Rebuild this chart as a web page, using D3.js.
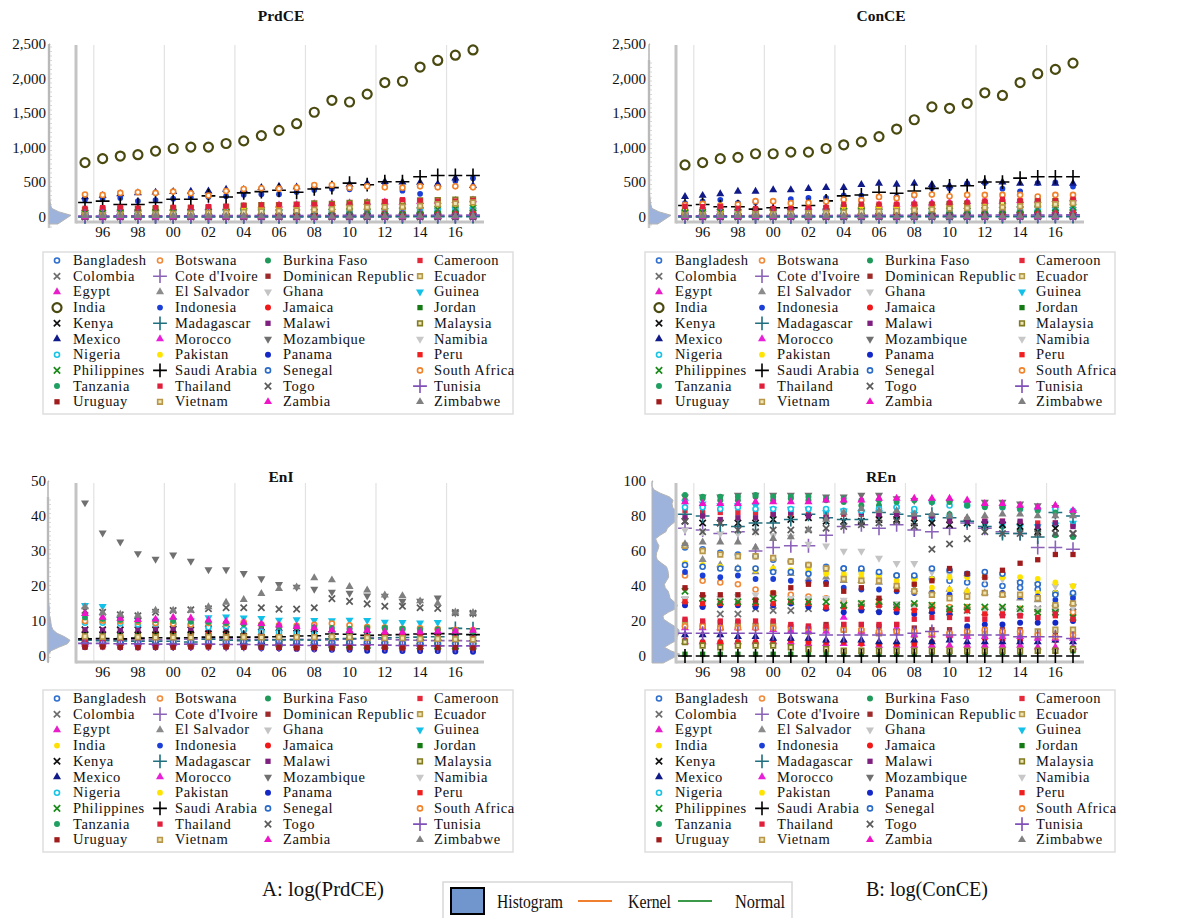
<!DOCTYPE html>
<html><head><meta charset="utf-8">
<script src="https://cdn.jsdelivr.net/npm/d3@7"></script>
<style>
body{margin:0;background:#fff}
svg{display:block}
text{font-family:'Liberation Serif','Times New Roman',serif;fill:#111}
</style>
</head><body>
<svg id="c" width="1179" height="918" font-family="Liberation Serif, Times New Roman, serif"></svg>
<script>
const years = d3.range(1995, 2018);
const yearTicks = [1996,1998,2000,2002,2004,2006,2008,2010,2012,2014,2016];
const gridYears = [1995.5,1999.5,2003.5,2007.5,2011.5,2015.5];
const countries = ["Bangladesh","Botswana","Burkina Faso","Cameroon","Colombia","Cote d'Ivoire","Dominican Republic","Ecuador","Egypt","El Salvador","Ghana","Guinea","India","Indonesia","Jamaica","Jordan","Kenya","Madagascar","Malawi","Malaysia","Mexico","Morocco","Mozambique","Namibia","Nigeria","Pakistan","Panama","Peru","Philippines","Saudi Arabia","Senegal","South Africa","Tanzania","Thailand","Togo","Tunisia","Uruguay","Vietnam","Zambia","Zimbabwe"];

// PrdCE (one row per country, 1995-2017)
const prdce = [
[16,18,19,20,21,23,26,28,30,32,35,38,40,44,48,52,56,60,63,68,75,80,85],
[3,3,4,4,4,4,4,4,4,4,4,4,5,5,4,5,5,6,6,7,7,7,7],
[1,1,1,1,1,1,1,1,1,1,1,2,2,2,2,2,3,3,3,3,3,4,4],
[3,3,3,3,3,3,4,4,4,4,4,5,5,5,5,6,6,6,6,7,7,7,7],
[60,62,64,64,60,58,59,57,57,57,58,61,62,65,70,72,73,78,84,88,90,97,94],
[5,5,6,6,6,6,6,6,6,6,6,7,7,7,7,7,7,8,9,10,10,11,11],
[13,14,15,16,18,19,19,20,19,18,19,20,21,21,21,21,21,22,21,22,24,25,25],
[20,21,23,22,20,21,23,25,25,27,29,31,31,31,32,35,36,37,40,41,40,37,36],
[95,100,105,110,115,125,132,137,140,150,160,170,178,190,197,203,210,215,212,220,225,236,245],
[5,5,5,6,6,6,6,6,6,6,6,7,7,6,6,6,6,7,6,6,7,7,7],
[4,4,5,6,6,6,7,7,7,7,7,8,9,9,10,11,12,13,14,15,16,15,15],
[1,1,1,1,1,1,1,1,2,2,2,2,2,2,2,2,2,2,2,2,2,3,3],
[786,843,881,900,952,990,1010,1010,1062,1100,1176,1252,1348,1514,1686,1662,1776,1943,1962,2167,2262,2338,2414],
[250,262,275,230,245,265,285,290,300,320,330,330,360,390,410,400,470,490,380,335,460,520,560],
[9,9,10,10,10,10,10,10,11,11,11,11,11,11,8,8,8,8,8,8,8,8,8],
[12,12,13,13,13,15,15,16,17,19,20,21,21,21,21,20,21,23,24,25,25,25,26],
[6,7,7,8,8,9,9,8,8,9,10,10,10,11,12,13,13,13,14,16,17,18,18],
[1,1,1,1,2,2,2,2,2,2,2,2,2,2,2,2,2,2,3,3,3,3,4],
[1,1,1,1,1,1,1,1,1,1,1,1,1,1,1,1,1,1,1,1,1,1,1],
[100,110,120,115,120,125,130,136,145,160,170,173,180,195,190,205,210,215,225,240,245,250,255],
[290,310,333,348,357,367,370,372,400,395,424,443,433,440,452,470,486,510,505,500,476,562,452],
[29,30,31,32,33,35,37,38,38,42,45,46,49,50,48,53,56,57,57,58,60,63,65],
[1,1,1,1,1,1,2,2,2,2,2,2,2,2,2,3,3,3,4,6,7,7,7],
[2,2,2,2,2,2,2,2,3,3,3,3,3,3,3,3,3,3,4,4,4,4,4],
[50,55,55,55,55,65,70,80,90,95,95,90,85,80,78,88,90,95,95,100,102,110,115],
[80,85,88,90,95,100,100,103,108,118,128,133,142,142,145,145,145,145,150,155,160,180,195],
[4,5,5,6,6,5,6,5,6,6,6,7,7,8,9,9,9,10,10,11,11,10,11],
[22,24,25,26,27,26,25,25,25,28,30,32,34,38,40,45,47,49,51,52,55,56,56],
[55,58,65,64,66,70,70,70,70,72,73,68,70,74,76,81,80,85,92,100,110,120,130],
[210,229,181,181,210,257,257,305,290,348,367,386,357,405,424,490,467,510,510,581,600,600,600],
[3,3,3,4,4,4,4,4,5,5,5,5,6,6,6,7,7,7,8,8,9,9,10],
[324,319,348,357,348,367,343,310,376,405,415,410,424,462,462,424,443,429,424,443,429,443,429],
[2,2,2,2,2,3,3,3,3,4,5,6,6,6,7,8,9,9,10,11,11,12,12],
[125,135,140,130,135,140,140,150,155,170,175,175,180,180,180,190,190,225,250,235,230,230,240],
[1,1,1,1,1,1,1,1,1,1,1,1,1,1,2,2,2,2,2,2,2,2,2],
[15,15,16,17,18,19,19,20,20,21,21,22,22,23,22,23,23,24,25,25,26,26,27],
[5,5,5,6,7,6,6,5,5,6,6,7,6,8,8,6,7,8,7,7,6,6,6],
[25,28,32,36,38,45,50,56,60,70,80,85,95,105,115,130,140,140,145,160,185,195,210],
[2,2,2,2,2,2,2,2,2,2,2,2,2,2,2,2,3,3,3,3,4,4,4],
[16,16,15,15,16,15,13,12,11,11,11,10,10,8,7,8,10,11,12,12,12,11,11]
];

// ConCE
const conce = [
[20,22,23,24,25,27,29,31,33,36,38,42,45,48,52,56,60,64,68,72,78,84,90],
[5,5,5,5,5,6,6,6,6,6,6,6,7,7,7,7,7,8,8,8,8,8,9],
[2,2,2,2,2,2,2,2,2,2,3,3,3,3,3,3,4,4,4,4,4,5,5],
[5,5,5,5,5,5,6,6,6,6,6,7,7,7,7,8,8,8,9,9,9,9,10],
[65,67,70,70,64,62,64,62,62,63,66,70,73,76,78,82,86,92,98,102,106,104,100],
[6,6,7,7,7,7,7,7,7,7,7,8,8,8,8,8,9,10,11,12,12,13,13],
[16,17,18,19,21,22,22,23,21,20,21,23,24,24,24,25,25,25,25,26,28,29,29],
[20,21,23,23,19,20,23,26,26,28,31,33,33,34,34,38,40,41,43,44,43,40,39],
[100,105,110,115,118,128,135,140,140,148,160,170,180,195,200,210,220,225,225,235,240,250,260],
[7,7,7,8,8,8,8,8,9,9,9,9,9,9,8,8,8,9,9,9,9,9,9],
[5,5,6,7,7,7,8,8,9,9,9,10,11,11,12,14,15,16,17,18,19,19,19],
[2,2,2,2,2,2,2,2,2,2,3,3,3,3,3,3,3,3,3,3,4,4,4],
[752,786,843,862,914,914,938,938,990,1043,1086,1162,1271,1405,1591,1571,1643,1795,1757,1943,2071,2133,2224],
[200,224,248,205,214,230,257,276,276,314,310,290,295,310,420,414,486,490,410,371,490,500,440],
[10,10,11,11,11,11,11,11,12,12,12,12,12,12,9,9,9,9,9,9,9,9,9],
[14,14,15,15,15,17,17,18,19,21,23,24,24,24,23,22,23,25,26,27,28,28,29],
[8,9,9,10,10,11,11,11,11,12,13,13,14,15,16,17,17,18,19,21,22,23,24],
[2,2,2,2,2,2,2,2,2,3,3,3,3,3,3,3,3,3,4,4,4,4,5],
[1,1,1,1,1,1,1,1,1,1,1,1,2,2,2,2,2,2,2,2,2,2,2],
[95,100,110,95,100,110,115,118,125,140,150,155,165,175,170,185,190,200,210,220,225,230,235],
[295,310,333,371,371,390,390,410,424,424,467,486,471,486,467,448,486,510,505,486,490,486,486],
[33,34,36,37,38,40,42,43,44,48,52,53,57,58,56,60,64,65,65,67,69,72,74],
[2,2,2,2,2,2,3,3,3,3,3,3,3,3,3,4,4,5,5,7,8,8,8],
[3,3,3,3,3,3,3,4,4,4,4,4,5,5,5,5,5,5,5,5,6,6,6],
[45,50,52,50,50,58,65,72,80,85,85,80,78,75,72,80,85,88,90,95,95,100,105],
[85,90,92,95,100,103,104,106,110,122,130,135,145,146,150,150,150,150,155,160,165,185,200],
[6,6,7,7,7,7,7,7,7,8,8,9,9,10,11,11,11,12,13,13,14,13,14],
[25,27,28,29,29,28,28,28,29,31,33,36,38,42,44,50,52,55,57,58,60,62,62],
[60,64,72,70,72,76,76,77,78,80,82,78,80,84,85,90,90,95,102,110,120,130,140],
[167,181,148,148,114,133,133,167,233,305,319,357,343,376,414,448,452,505,505,562,581,581,581],
[4,4,4,5,5,5,5,5,6,6,6,6,7,7,7,8,8,8,9,9,10,10,11],
[176,190,165,181,229,229,200,205,224,252,243,290,271,319,324,300,319,319,319,319,295,319,319],
[3,3,3,3,3,4,4,4,4,5,6,7,7,7,8,9,10,11,12,13,13,14,14],
[155,150,150,125,122,122,120,128,140,180,185,185,185,185,190,200,205,230,255,235,235,235,255],
[1,1,1,1,1,1,1,1,1,1,2,2,2,2,2,2,2,2,3,3,3,3,3],
[17,17,18,19,20,21,21,22,22,23,23,24,25,26,25,26,26,27,28,28,29,29,30],
[7,7,7,8,9,8,8,7,7,8,8,9,8,10,10,9,9,10,9,9,9,9,9],
[25,28,32,35,37,43,48,54,58,66,75,80,90,100,110,122,130,135,140,155,175,185,200],
[3,3,3,3,3,3,3,3,3,3,3,3,3,3,3,3,4,4,4,5,5,5,6],
[17,17,16,16,17,16,14,13,12,12,12,11,11,9,8,9,11,12,13,13,13,12,12]
];

// EnI
const eni = [
[3.6,3.6,3.5,3.5,3.4,3.4,3.4,3.3,3.3,3.3,3.2,3.2,3.1,3.1,3.1,3.0,3.0,2.9,2.9,2.9,2.8,2.8,2.7],
[5.2,5.0,4.9,4.8,4.6,4.5,4.4,4.4,4.3,4.2,4.2,4.1,4.0,4.1,4.5,4.4,4.3,4.4,4.5,4.3,4.2,4.1,4.0],
[5.5,5.4,5.4,5.3,5.3,5.2,5.3,5.2,5.1,5.0,5.0,4.9,4.8,4.9,4.8,4.6,4.5,4.5,4.4,4.4,4.3,4.3,4.2],
[6.2,6.0,5.9,5.8,5.7,5.7,5.6,5.5,5.4,5.3,5.2,5.1,5.0,4.9,4.9,4.8,4.7,4.7,4.6,4.5,4.5,4.4,4.4],
[4.0,4.0,3.9,3.9,4.0,3.9,3.8,3.7,3.6,3.4,3.4,3.3,3.2,3.1,3.1,3.0,2.9,2.9,2.8,2.8,2.7,2.7,2.7],
[4.8,4.7,4.6,4.6,4.6,4.8,4.8,4.9,4.9,4.8,4.8,4.7,4.8,4.7,4.6,4.8,5.2,4.8,4.6,4.5,4.4,4.4,4.3],
[3.8,3.7,3.6,3.6,3.5,3.4,3.3,3.2,3.3,3.1,2.9,2.7,2.6,2.5,2.4,2.4,2.3,2.3,2.2,2.1,2.1,2.0,2.0],
[4.1,4.2,4.3,4.5,4.6,4.5,4.4,4.4,4.3,4.3,4.3,4.2,4.2,4.1,4.2,4.1,4.0,3.9,3.9,3.9,3.9,3.8,3.8],
[4.0,3.9,3.9,3.8,3.8,3.8,3.9,3.9,3.9,4.0,4.0,3.9,3.8,3.7,3.7,3.7,3.8,3.8,3.7,3.6,3.5,3.5,3.4],
[5.0,5.0,4.9,4.9,4.9,4.8,4.7,4.6,4.6,4.5,4.4,4.3,4.2,4.1,4.0,4.0,3.9,3.9,3.8,3.7,3.7,3.6,3.6],
[6.5,6.4,6.3,6.2,6.0,5.9,5.8,5.6,5.5,5.3,5.1,4.8,4.5,4.3,4.1,3.9,3.6,3.6,3.5,3.6,3.5,3.4,3.3],
[14.5,14.2,10.5,10.2,10.0,10.2,10.1,11.0,11.2,10.9,10.8,10.3,10.4,10.2,10.1,10.3,10.2,9.7,9.6,9.5,9.6,7.6,7.3],
[7.0,6.9,6.8,6.6,6.5,6.4,6.2,6.1,5.9,5.8,5.6,5.4,5.3,5.3,5.3,5.1,5.0,4.9,4.8,4.7,4.6,4.5,4.4],
[5.0,4.9,4.9,5.4,5.5,5.4,5.3,5.2,5.0,4.9,4.7,4.5,4.4,4.2,4.2,4.1,3.9,3.8,3.6,3.5,3.4,3.3,3.3],
[6.5,6.6,6.7,6.5,6.6,6.8,6.9,6.5,6.3,6.0,5.9,5.8,5.8,5.5,4.6,4.6,4.5,4.4,4.3,4.3,4.2,4.2,4.2],
[6.2,6.0,6.0,5.9,5.9,5.8,5.6,5.6,5.8,5.7,5.5,5.1,5.0,4.7,4.6,4.5,4.4,4.6,4.6,4.7,4.6,4.4,4.3],
[7.5,7.5,7.5,7.5,7.5,7.6,7.5,7.8,7.6,7.0,6.8,6.6,6.5,6.3,6.2,6.0,5.9,5.7,5.5,5.5,5.4,5.2,5.1],
[4.5,4.4,4.3,4.2,4.2,4.2,4.0,4.8,4.5,4.4,4.5,4.6,4.6,4.5,4.9,5.0,5.0,5.2,5.3,5.4,5.5,7.9,7.8],
[7.5,7.4,7.3,7.5,7.6,7.8,7.9,8.0,8.0,7.5,7.6,7.4,7.2,7.0,6.9,7.3,7.8,8.0,7.8,7.6,7.2,6.9,6.7],
[5.1,5.2,5.2,5.3,5.3,5.5,5.7,5.6,5.6,5.6,5.5,5.3,5.2,5.1,5.0,5.1,5.1,5.1,5.0,5.0,4.8,4.7,4.6],
[4.3,4.2,4.0,4.0,3.9,3.8,3.8,3.8,3.9,4.0,4.0,3.9,3.8,3.8,3.8,3.8,3.8,3.7,3.6,3.5,3.4,3.3,3.3],
[3.4,3.4,3.5,3.4,3.5,3.6,3.4,3.5,3.4,3.5,3.6,3.5,3.6,3.6,3.4,3.5,3.5,3.5,3.4,3.3,3.2,3.2,3.1],
[43.8,35.2,32.6,29.3,27.7,28.9,27.1,24.7,24.7,23.6,22.1,20.5,19.7,19.1,18.3,18.0,17.2,17.1,15.7,15.7,16.6,12.3,12.1],
[3.6,3.6,3.7,3.8,3.9,3.8,3.8,3.9,3.8,3.8,3.9,3.8,3.7,3.7,3.9,3.7,3.8,3.7,3.6,3.6,3.5,3.5,3.4],
[9.5,9.5,9.3,9.0,9.2,9.2,9.0,8.2,8.5,7.5,7.0,6.8,6.5,6.2,6.3,6.0,5.8,5.6,5.5,5.3,5.3,5.4,5.4],
[5.0,5.0,5.1,5.1,5.1,5.0,5.0,4.9,4.9,4.8,4.7,4.7,4.6,4.6,4.6,4.5,4.4,4.4,4.3,4.2,4.2,4.2,4.2],
[2.6,2.7,2.5,2.6,2.6,2.8,2.6,2.7,2.6,2.5,2.3,2.2,2.0,1.9,1.8,1.8,1.5,1.5,1.4,1.4,1.4,1.3,1.2],
[3.0,3.0,3.0,2.9,2.9,3.0,2.9,2.8,2.8,2.8,2.8,2.6,2.6,2.5,2.6,2.6,2.6,2.6,2.5,2.6,2.6,2.5,2.5],
[4.5,4.5,4.6,4.7,4.6,4.4,4.3,4.1,4.0,4.0,3.8,3.5,3.3,3.2,3.3,3.2,3.1,3.1,3.0,2.9,2.9,2.9,2.8],
[4.9,5.0,4.9,5.1,5.2,5.1,5.2,5.4,5.4,5.4,5.4,5.5,5.7,5.8,6.3,6.2,5.9,6.0,6.1,6.3,6.4,6.3,6.1],
[4.2,4.1,4.0,3.9,4.2,4.1,4.1,4.0,4.0,4.1,4.2,4.2,4.0,3.9,3.9,3.9,3.9,3.7,3.7,3.6,3.6,3.5,3.5],
[10.0,10.1,9.9,9.7,9.4,9.2,9.0,9.4,9.3,9.6,9.0,8.8,8.6,8.9,9.3,8.8,8.3,8.1,7.8,7.9,7.7,7.5,7.4],
[11.0,10.6,10.3,10.1,10.2,10.0,9.8,9.7,9.4,9.1,8.9,8.5,8.3,8.2,8.0,7.8,8.0,8.0,7.8,7.6,7.6,7.2,7.0],
[4.7,4.9,5.0,5.2,5.3,5.3,5.4,5.5,5.5,5.6,5.6,5.5,5.5,5.5,5.6,5.7,5.6,5.8,5.6,5.5,5.4,5.2,5.1],
[13.0,12.5,11.8,11.5,12.5,13.0,13.2,13.5,13.8,13.8,13.8,13.4,13.4,13.8,16.4,15.6,14.9,14.2,14.2,13.8,13.6,12.4,12.2],
[3.6,3.6,3.5,3.5,3.4,3.4,3.4,3.4,3.3,3.3,3.2,3.1,3.1,3.0,3.1,3.1,3.2,3.1,3.0,3.0,2.9,2.9,2.9],
[2.5,2.6,2.5,2.4,2.5,2.5,2.6,2.6,2.6,2.5,2.5,2.5,2.3,2.4,2.3,2.4,2.4,2.5,2.3,2.4,2.4,2.4,2.3],
[5.6,5.5,5.4,5.4,5.3,5.3,5.3,5.4,5.3,5.4,5.3,5.4,5.4,5.4,5.5,5.4,5.2,5.1,5.1,4.9,4.9,4.8,4.7],
[12.1,11.0,10.7,10.4,10.5,11.0,10.8,10.2,9.9,9.6,9.2,8.8,8.4,8.0,7.4,7.2,7.3,6.9,6.8,6.9,7.0,7.1,7.3],
[14.0,12.4,11.9,11.6,13.0,13.0,13.0,14.0,15.3,16.1,17.8,19.2,19.7,22.3,21.7,19.8,18.8,17.4,17.2,15.7,15.0,12.5,12.4]
];

// REn
const ren = [
[62,61,59,58,57,55,54,52,51,50,49,47,46,45,44,43,42,41,40,39,38,36,35],
[46,43,42,41,38,36,35,34,33,31,30,30,29,29,29,28,28,27,27,27,26,26,25],
[89,90,89,89,91,89,90,89,89,88,86,86,85,82,80,81,78,76,74,72,71,69,68],
[83,82,82,82,82,81,81,81,81,81,81,80,80,79,79,79,78,77,77,76,76,76,75],
[32,30,24,24,27,26,26,27,28,29,28,27,28,28,26,25,26,25,25,25,27,27,28],
[73,72,70,71,60,62,63,63,69,74,75,73,75,72,71,73,76,73,71,70,62,62,61],
[20,19,19,19,18,19,17,17,18,18,18,17,18,16,15,15,15,15,15,15,14,13,13],
[18,17,16,17,17,17,15,14,16,15,14,13,14,12,12,12,13,13,13,13,14,15,15],
[8,8,8,8,8,8,8,7,7,7,7,6,6,6,6,6,6,6,6,6,5,5,5],
[63,55,52,50,48,50,47,44,45,43,43,42,40,38,37,38,37,36,35,33,32,30,30],
[72,71,70,70,71,69,68,64,63,60,60,56,53,53,48,47,45,44,44,42,41,40,40],
[88,87,86,86,86,84,84,84,82,83,82,82,81,81,78,79,76,76,75,74,74,75,76],
[52,51,50,50,49,49,48,48,47,46,45,44,43,41,39,38,37,36,36,35,36,36,35],
[48,46,45,46,44,44,43,42,42,39,38,38,37,36,36,35,34,36,36,34,34,32,33],
[9,8,8,8,8,9,9,8,8,8,7,7,7,7,8,11,11,10,9,9,10,9,10],
[1,1,1,1,1,1,1,1,1,1,1,1,1,1,2,2,2,2,2,2,3,3,3],
[77,76,76,76,76,78,78,79,77,77,77,78,78,76,76,75,76,75,75,74,71,73,70],
[81,80,75,74,76,76,78,81,79,78,78,82,81,80,81,79,77,74,70,70,68,82,80],
[79,80,78,79,79,81,82,80,79,82,82,81,81,80,80,77,77,77,77,77,74,76,74],
[8,6,5,6,6,6,5,4,4,3,3,3,3,3,3,3,3,3,3,3,3,3,4],
[12,12,12,11,11,10,10,10,9,9,9,8,8,9,8,9,8,8,8,8,8,9,8],
[16,16,16,16,16,15,14,14,14,22,14,14,16,12,12,12,11,11,11,11,10,10,10],
[91,91,91,92,92,92,92,92,91,91,92,92,90,89,88,88,87,88,88,87,86,85,82],
[33,33,33,34,35,34,33,33,33,32,30,29,30,28,27,27,26,26,27,26,27,26,28],
[85,85,84,85,84,84,84,84,84,83,83,84,85,84,88,86,86,86,85,84,84,84,83],
[53,52,51,50,50,50,49,49,48,47,47,46,46,44,44,45,45,46,45,45,44,42,40],
[29,28,29,29,28,29,30,28,27,25,26,25,25,24,25,24,17,18,18,19,19,19,20],
[31,30,30,30,30,30,31,30,28,28,28,29,27,26,27,26,26,24,24,23,22,23,22],
[37,33,31,31,31,33,31,31,31,29,30,31,29,30,29,27,28,28,28,27,25,25,22],
[0,0,0,0,0,0,0,0,0,0,0,0,0,0,0,0,0,0,0,0,0,0,0],
[52,51,50,50,50,48,48,47,50,50,50,48,46,46,50,49,47,48,47,42,41,35,36],
[17,17,16,16,16,16,17,16,16,15,15,14,14,14,13,13,14,15,14,14,12,11,12],
[92,91,91,91,92,91,91,91,90,90,89,89,88,89,88,88,86,85,85,84,83,82,82],
[21,20,20,20,20,20,18,17,17,18,18,18,18,21,22,22,21,21,23,23,22,24,21],
[77,71,76,72,71,72,72,72,73,74,75,76,77,74,61,64,67,71,70,70,70,70,70],
[13,13,13,13,13,13,13,13,12,12,12,12,12,13,14,12,12,12,12,11,11,11,10],
[39,35,35,35,32,36,39,41,41,37,39,33,38,41,43,50,47,45,49,53,55,58,58],
[63,60,58,57,57,56,54,52,50,44,43,43,40,37,35,33,34,36,35,35,33,29,30],
[88,87,87,87,88,88,88,88,89,89,89,90,90,90,90,90,89,87,87,86,85,86,83],
[64,65,65,65,62,67,68,72,78,82,84,83,83,81,81,80,79,80,81,81,80,80,80]
];

// marker styles (legend order)
const shapes = ["ring","ring","bal","sq","x","plus","sq","osq","tri","tri","dtri","dtri","india","dot","bal","sq","x","plus","sq","osq","tri","tri","dtri","dtri","ring","dot","bal","sq","x","plus","ring","ring","bal","sq","x","plus","sq","osq","tri","tri"];
const colors = ["#2f6fd0","#f08a3a","#1f9a5a","#e5283a","#6e6e6e","#8a62b8","#9e2a2a","#b39a4a","#e81ec8","#8c8c8c","#c4c4c4","#12c0e8","#4a4a10","#1a3ed6","#f01818","#147a14","#111111","#1f6f7f","#7f1f7f","#807a20","#101a88","#e820d8","#707070","#c8c8c8","#19c3e6","#ffe400","#1428c8","#f01e1e","#1a8a1a","#000000","#2a6ac8","#f0822a","#20a060","#e0203a","#5a5a5a","#8050b8","#a01c1c","#b8964a","#f014c8","#808080"];

const svg = d3.select("#c");
const plusT = d3.symbolPlus || d3.symbolCross;
const timesT = d3.symbolTimes || d3.symbolCross;

function marker(g, shape, color, top) {
  if (shape === "india") {
    if (top) return g.append("circle").attr("r", 4.5).attr("fill", "none").attr("stroke", color).attr("stroke-width", 2.2);
    shape = "dot"; color = "#ffe000";
  }
  const s = d3.symbol();
  let p;
  switch (shape) {
    case "ring": p = g.append("path").attr("d", s.type(d3.symbolCircle).size(20)()).attr("fill", "#fff").attr("stroke", color).attr("stroke-width", 1.6); break;
    case "dot": p = g.append("path").attr("d", s.type(d3.symbolCircle).size(26)()).attr("fill", color); break;
    case "bal": p = g.append("path").attr("d", s.type(d3.symbolCircle).size(28)()).attr("fill", color); break;
    case "sq": p = g.append("path").attr("d", s.type(d3.symbolSquare).size(28)()).attr("fill", color); break;
    case "osq": p = g.append("path").attr("d", s.type(d3.symbolSquare).size(22)()).attr("fill", "#efe6b8").attr("stroke", color).attr("stroke-width", 1.6); break;
    case "tri": p = g.append("path").attr("d", s.type(d3.symbolTriangle).size(28)()).attr("fill", color); break;
    case "dtri": p = g.append("path").attr("d", s.type(d3.symbolTriangle).size(28)()).attr("fill", color).attr("transform", "rotate(180)"); break;
    case "x": p = g.append("path").attr("d", s.type(timesT).size(28)()).attr("fill", "none").attr("stroke", color).attr("stroke-width", 1.7); break;
    case "plus": p = g.append("path").attr("d", s.type(plusT).size(d3.symbolPlus ? 64 : 40)()).attr("fill", d3.symbolPlus ? "none" : color).attr("stroke", d3.symbolPlus ? color : "none").attr("stroke-width", 1.6); break;
  }
  return p;
}

const panels = [
  {title: "PrdCE", data: prdce, ox: 0, top: true, max: 2500, step: 500, y0: 217, y1: 44, titleY: 21, frameTop: 45, frameBottom: 222, yearY: 237, histTop: 44, histBottom: 228, histW: 22, histLine: true, histX: 49},
  {title: "ConCE", data: conce, ox: 600, top: true, max: 2500, step: 500, y0: 217, y1: 44, titleY: 21, frameTop: 45, frameBottom: 222, yearY: 237, histTop: 60, histBottom: 228, histW: 22, histLine: true, histX: 49},
  {title: "EnI", data: eni, ox: 0, top: false, max: 50, step: 10, y0: 656, y1: 481, titleY: 482, frameTop: 483, frameBottom: 662, yearY: 677, histTop: 497, histBottom: 662, histW: 22, histLine: true, histX: 48},
  {title: "REn", data: ren, ox: 600, top: false, max: 100, step: 20, y0: 656, y1: 481, titleY: 482, frameTop: 483, frameBottom: 662, yearY: 677, histTop: 481, histBottom: 665, histW: 28, histLine: false, histX: 52}
];

panels.forEach(P => {
  const g = svg.append("g").attr("transform", `translate(${P.ox},0)`);
  const x = d3.scaleLinear().domain([1995, 2017]).range([85, 473]);
  const y = d3.scaleLinear().domain([0, P.max]).range([P.y0, P.y1]);

  g.append("text").attr("x", 281).attr("y", P.titleY).attr("text-anchor", "middle")
    .attr("font-weight", "bold").attr("font-size", 15.5).text(P.title);

  const fmt = d3.format(",");
  g.selectAll(".yt").data(d3.range(0, P.max + 1, P.step)).join("text")
    .attr("x", 46).attr("y", d => y(d) + 5).attr("text-anchor", "end")
    .attr("font-size", 15).text(d => fmt(d));

  // histogram strip (horizontal, from all values of the panel)
  const all = P.data.flat();
  const bins = d3.bin().domain([0, P.max]).thresholds(d3.range(0, P.max, P.max / 50))(all);
  const counts = bins.map((b, i) => {
    const a = bins[i - 1] ? bins[i - 1].length : b.length;
    const c = bins[i + 1] ? bins[i + 1].length : b.length;
    return (a + 2 * b.length + c) / 4;
  });
  const w = d3.scaleLinear().domain([0, d3.max(counts)]).range([0, P.histW]);
  if (P.histLine) {
    g.append("line").attr("x1", P.histX).attr("x2", P.histX).attr("y1", P.histTop).attr("y2", P.histBottom)
      .attr("stroke", "#c9c9c9").attr("stroke-width", 2.5);
    g.selectAll(".ht").data(d3.range(P.histTop + 3, P.histBottom, 4.5)).join("line")
      .attr("x1", P.histX + 1).attr("x2", P.histX + 3).attr("y1", d => d).attr("y2", d => d)
      .attr("stroke", "#d6d6d6").attr("stroke-width", 1);
  }
  const pts = [];
  pts.push([P.histX, y(0) + 7]);
  pts.push([P.histX + w(counts[0]) * 0.4, y(0) + 7]);
  bins.forEach((b, i) => {
    pts.push([P.histX + w(counts[i]), y((b.x0 + b.x1) / 2)]);
  });
  pts.push([P.histX + 1, y(P.max)]);
  pts.push([P.histX, y(P.max)]);
  g.append("path").attr("d", d3.line().curve(d3.curveLinear)(pts) + "Z")
    .attr("fill", "#9db3dc").attr("stroke", "#b4b4b4").attr("stroke-width", 1);

  // frame & grid
  g.selectAll(".gl").data(gridYears).join("line")
    .attr("x1", d => x(d)).attr("x2", d => x(d)).attr("y1", P.frameTop).attr("y2", P.frameBottom)
    .attr("stroke", "#e2e2e2").attr("stroke-width", 1.2);
  g.append("line").attr("x1", 76).attr("x2", 76).attr("y1", P.frameTop).attr("y2", P.frameBottom + 1.5)
    .attr("stroke", "#c4c4c4").attr("stroke-width", 3);
  g.append("line").attr("x1", 76).attr("x2", 484).attr("y1", P.frameBottom).attr("y2", P.frameBottom)
    .attr("stroke", "#c4c4c4").attr("stroke-width", 3);

  g.selectAll(".xt").data(yearTicks).join("text")
    .attr("x", d => x(d)).attr("y", P.yearY).attr("text-anchor", "middle")
    .attr("font-size", 15).text(d => String(d).slice(2));

  // points
  countries.forEach((c, i) => {
    const cg = g.append("g");
    P.data[i].forEach((v, j) => {
      const mg = cg.append("g").attr("transform", `translate(${x(years[j])},${y(v)})`);
      marker(mg, shapes[i], colors[i], P.top);
    });
  });

  // legend
  const lo = P.ox === 0 ? 0 : 2;
  const ly = P.top ? 0 : 438;
  const lg = svg.append("g").attr("transform", `translate(${P.ox + lo},${ly})`);
  lg.append("rect").attr("x", 43).attr("y", 252).attr("width", 470).attr("height", 162)
    .attr("fill", "#fff").attr("stroke", "#dedede").attr("stroke-width", 1.5);
  const colMX = [57, 160, 268, 420], colTX = [73, 175, 283, 434];
  countries.forEach((c, i) => {
    const r = Math.floor(i / 4), k = i % 4;
    const yy = 260.5 + r * 15.7;
    const mg = lg.append("g").attr("transform", `translate(${colMX[k]},${yy})`);
    marker(mg, shapes[i], colors[i], P.top);
    lg.append("text").attr("x", colTX[k]).attr("y", yy + 4.5).attr("font-size", 14.5)
      .attr("letter-spacing", 0.6).text(c);
  });
});

// bottom captions and legend
svg.append("text").attr("x", 323).attr("y", 896).attr("text-anchor", "middle").attr("font-size", 21)
  .attr("textLength", 122).attr("lengthAdjust", "spacingAndGlyphs").text("A: log(PrdCE)");
svg.append("text").attr("x", 927).attr("y", 896).attr("text-anchor", "middle").attr("font-size", 21)
  .attr("textLength", 122).attr("lengthAdjust", "spacingAndGlyphs").text("B: log(ConCE)");
const bl = svg.append("g");
bl.append("rect").attr("x", 443).attr("y", 882).attr("width", 349).attr("height", 40)
  .attr("fill", "#fff").attr("stroke", "#d8d8d8").attr("stroke-width", 1.5);
bl.append("rect").attr("x", 451).attr("y", 888).attr("width", 33).attr("height", 26)
  .attr("fill", "#7195cd").attr("stroke", "#000").attr("stroke-width", 2);
bl.append("text").attr("x", 497).attr("y", 908).attr("font-size", 19).attr("textLength", 66).attr("lengthAdjust", "spacingAndGlyphs").text("Histogram");
bl.append("line").attr("x1", 578).attr("x2", 612).attr("y1", 901).attr("y2", 901).attr("stroke", "#f08030").attr("stroke-width", 2);
bl.append("text").attr("x", 628).attr("y", 908).attr("font-size", 19).attr("textLength", 43).attr("lengthAdjust", "spacingAndGlyphs").text("Kernel");
bl.append("line").attr("x1", 678).attr("x2", 712).attr("y1", 901).attr("y2", 901).attr("stroke", "#3a9a4a").attr("stroke-width", 2);
bl.append("text").attr("x", 735).attr("y", 908).attr("font-size", 19).attr("textLength", 50).attr("lengthAdjust", "spacingAndGlyphs").text("Normal");
</script>
</body></html>
